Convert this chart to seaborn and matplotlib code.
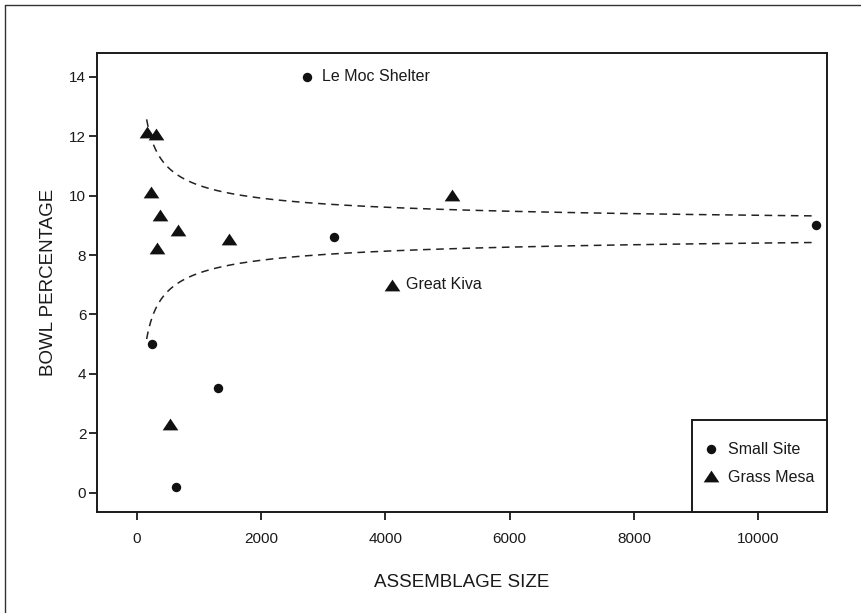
import numpy as np
import pandas as pd
import matplotlib
matplotlib.use("Agg")
import matplotlib.pyplot as plt
from matplotlib.path import Path
from matplotlib.lines import Line2D
from matplotlib.patches import Rectangle
import seaborn as sns

# ---- data -------------------------------------------------------------
small_site_size = [2740, 251, 1313, 632, 3179, 10923]
small_site_bowl = [14.0, 5.0, 3.52, 0.2, 8.61, 9.0]

grass_mesa_size = [161, 306, 225, 375, 669, 331, 1485, 5072, 4102, 536]
grass_mesa_bowl = [12.15, 12.08, 10.12, 9.36, 8.85, 8.24, 8.54, 10.03, 7.0, 2.32]

site_names = ["Small Site", "Grass Mesa"]

# labelled assemblages: (name, size, bowl %)
labelled_sites = [("Le Moc Shelter", 2740, 14.0), ("Great Kiva", 4102, 7.0)]

# confidence envelope around the pooled bowl percentage
pooled_bowl_pct = 8.87
z_value = 1.645
envelope_n_min, envelope_n_max = 160, 10880

x_ticks = [0, 2000, 4000, 6000, 8000, 10000]
y_ticks = [0, 2, 4, 6, 8, 10, 12, 14]

# ---- tables -----------------------------------------------------------
df = pd.DataFrame({
    "size": small_site_size + grass_mesa_size,
    "bowl": small_site_bowl + grass_mesa_bowl,
    "site": [site_names[0]] * len(small_site_size) + [site_names[1]] * len(grass_mesa_size),
})

n_grid = np.geomspace(envelope_n_min, envelope_n_max, 400)
half = z_value * np.sqrt(pooled_bowl_pct * (100 - pooled_bowl_pct) / n_grid)
env = pd.concat([
    pd.DataFrame({"size": n_grid, "bowl": pooled_bowl_pct + half, "bound": "upper"}),
    pd.DataFrame({"size": n_grid, "bowl": pooled_bowl_pct - half, "bound": "lower"}),
])

# ---- style ------------------------------------------------------------
sns.set_theme(style="ticks")
plt.rcParams["font.family"] = ["Liberation Sans", "DejaVu Sans"]
plt.rcParams["text.color"] = "#1a1a1a"
plt.rcParams["axes.labelcolor"] = "#1a1a1a"
plt.rcParams["xtick.color"] = "#1a1a1a"
plt.rcParams["ytick.color"] = "#1a1a1a"

# wide triangle marker
tri = Path([(0, 0.75), (-1, -0.75), (1, -0.75), (0, 0.75)],
           [Path.MOVETO, Path.LINETO, Path.LINETO, Path.CLOSEPOLY])
markers = {site_names[0]: "o", site_names[1]: tri}
sizes_pt2 = {site_names[0]: 46, site_names[1]: 128}

fig = plt.figure(figsize=(8.62, 6.13), dpi=100)
ax = fig.add_axes([0.1122, 0.1643, 0.9594 - 0.1122, 0.913 - 0.1643])

# envelope curves
sns.lineplot(data=env, x="size", y="bowl", units="bound", estimator=None,
             color="#222222", lw=1.1, linestyle=(0, (5, 3.6)), sort=False, ax=ax,
             legend=False)

# points, one call per site so each gets its own marker size
for name in site_names:
    sns.scatterplot(data=df[df["site"] == name], x="size", y="bowl",
                    marker=markers[name], s=sizes_pt2[name], color="#111111",
                    edgecolor="#111111", linewidth=0, ax=ax, legend=False, zorder=3)

# point labels
for label, sx, sy in labelled_sites:
    ax.annotate(label, xy=(sx, sy), xytext=(10.5, 0), textcoords="offset points",
                va="center", ha="left", fontsize=11.5)

ax.set_xlim(-643, 11105)
ax.set_ylim(-0.66, 14.79)
ax.set_xticks(x_ticks)
ax.set_yticks(y_ticks)
ax.set_xticklabels([str(t) for t in x_ticks])
ax.set_yticklabels([str(t) for t in y_ticks])
ax.tick_params(axis="x", length=5.5, width=1.3, pad=8.5, labelsize=11)
ax.tick_params(axis="y", length=5.5, width=1.3, pad=2, labelsize=11)
for sp in ax.spines.values():
    sp.set_visible(True)
    sp.set_linewidth(1.4)
    sp.set_color("#1a1a1a")

ax.set_xlabel("ASSEMBLAGE SIZE", fontsize=13.5, labelpad=20)
ax.set_ylabel("BOWL PERCENTAGE", fontsize=13.5, labelpad=9)

# legend box in the lower right corner
ax.add_patch(Rectangle((0.8156, 0.0), 1 - 0.8156, 0.201, transform=ax.transAxes,
                       facecolor="white", edgecolor="#1a1a1a", lw=1.4,
                       clip_on=False, zorder=4))
handles = [
    Line2D([], [], linestyle="none", marker="o", markersize=np.sqrt(sizes_pt2[site_names[0]]),
           color="#111111", markeredgewidth=0),
    Line2D([], [], linestyle="none", marker=tri, markersize=np.sqrt(sizes_pt2[site_names[1]]),
           color="#111111", markeredgewidth=0),
]
leg = ax.legend(handles, site_names, loc="center left", bbox_to_anchor=(0.830, 0.106),
                frameon=False, borderpad=0, borderaxespad=0, handlelength=1.0,
                handletextpad=0.55, labelspacing=0.78, fontsize=11.5)
leg.set_zorder(5)

# figure border along the top and left edges
fig.add_artist(Line2D([5 / 862, 5 / 862], [0, 1 - 5 / 613], transform=fig.transFigure,
                      color="#333333", lw=1.0))
fig.add_artist(Line2D([5 / 862, 1], [1 - 5 / 613, 1 - 5 / 613], transform=fig.transFigure,
                      color="#333333", lw=1.0))

fig.savefig("out.png", dpi=100, facecolor="white")
